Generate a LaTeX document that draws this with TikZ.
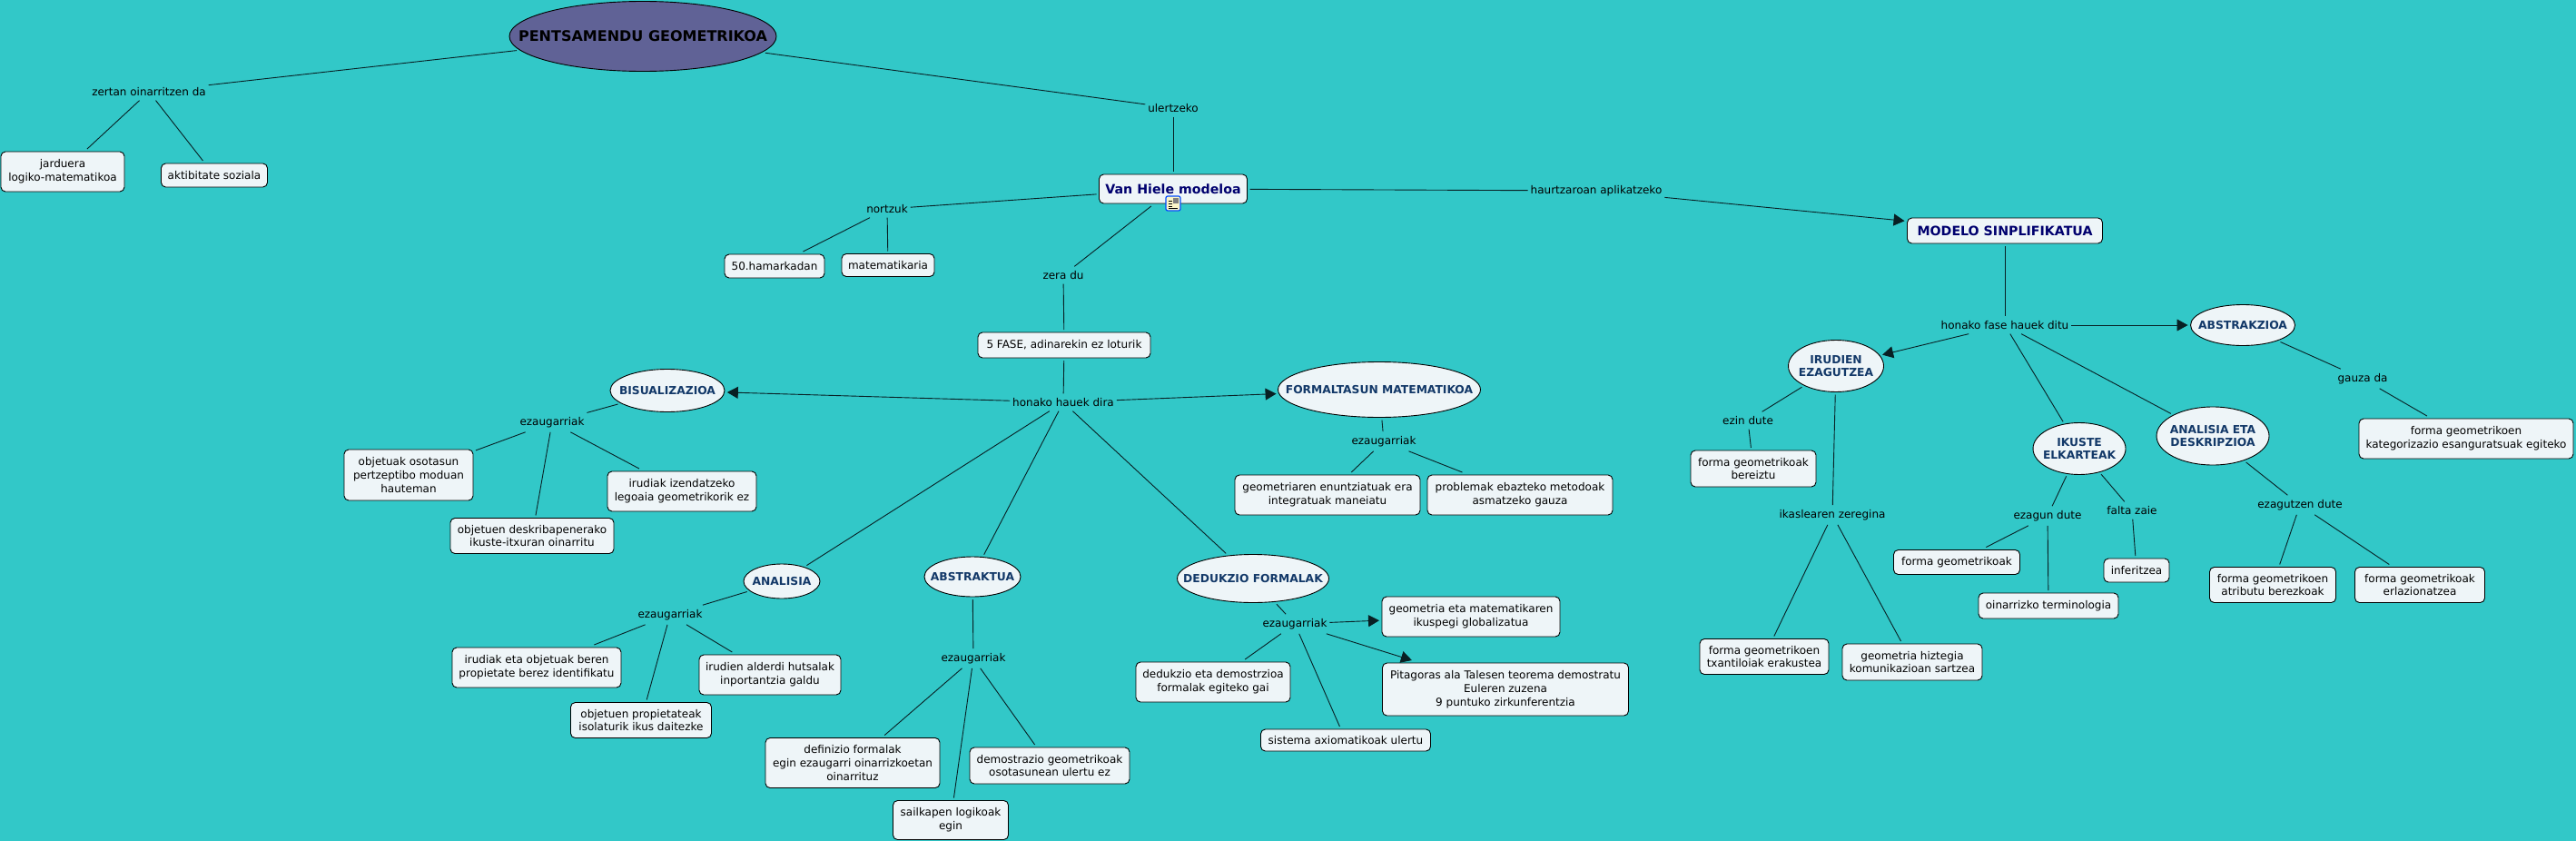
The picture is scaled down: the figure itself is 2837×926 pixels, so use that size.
\documentclass[tikz,border=0pt]{standalone}
\usepackage{fontspec}
\setmainfont{DejaVu Sans}
\usetikzlibrary{shapes.geometric,arrows.meta}
\definecolor{bgcol}{RGB}{50,200,200}
\definecolor{boxcol}{RGB}{238,245,248}
\definecolor{rootcol}{RGB}{96,98,150}
\definecolor{navycol}{RGB}{0,0,110}
\definecolor{phasecol}{RGB}{18,56,104}
\definecolor{linecol}{RGB}{8,32,36}
\definecolor{iconcol}{RGB}{250,245,200}

\begin{document}
\begin{tikzpicture}[x=1pt,y=-1pt,line width=.9pt,
  every node/.style={font=\fontsize{12}{14.7}\selectfont,align=center,outer sep=3pt,inner sep=0pt,text=black},
  lab/.style={inner xsep=1pt,inner ysep=3pt,outer sep=2pt},
  box/.style 2 args={draw=black,fill=boxcol,rounded corners=5pt,minimum width=#1pt,minimum height=#2pt},
  topbox/.style={font=\fontsize{14.2}{17}\selectfont\bfseries,text=navycol},
  oval/.style 2 args={draw=black,fill=boxcol,ellipse,inner xsep=-40pt,inner ysep=-10pt,minimum width=#1pt,minimum height=#2pt,font=\fontsize{12.3}{14.7}\selectfont\bfseries,text=phasecol},
  arr/.style={-{Triangle[length=12pt,width=13pt]}}]

  \fill[bgcol] (0,0) rectangle (2837,926);

  \node[draw=black,fill=rootcol,ellipse,inner xsep=-60pt,inner ysep=-10pt,minimum width=294pt,minimum height=77pt,font=\fontsize{16}{19}\selectfont\bfseries,text=black] (root) at (708,40) {PENTSAMENDU GEOMETRIKOA};
  \node[lab] (zertan) at (164,101) {zertan oinarritzen da};
  \node[box={136}{44}] (jarduera) at (69,189) {jarduera\\logiko-matematikoa};
  \node[box={117}{26}] (aktibitate) at (236,193) {aktibitate soziala};
  \node[lab] (ulertzeko) at (1292,119) {ulertzeko};

  \node[box={163}{32},topbox] (vanhiele) at (1292,208) {Van Hiele modeloa};
  \node[lab] (nortzuk) at (977,230) {nortzuk};
  \node[box={110}{26}] (hamarkadan) at (853,293) {50.hamarkadan};
  \node[box={102}{25}] (matematikaria) at (978,292) {matematikaria};
  \node[lab] (zeradu) at (1171,303) {zera du};
  \node[box={190}{28}] (fase) at (1172,380) {5 FASE, adinarekin ez loturik};
  \node[lab] (dira) at (1171,443) {honako hauek dira};
  \node[lab] (haurtzaroan) at (1758,210) {haurtzaroan aplikatzeko};

  \node[oval={126}{47}] (bisual) at (735,430) {BISUALIZAZIOA};
  \node[lab] (ezaug1) at (608,465) {ezaugarriak};
  \node[box={142}{56}] (objetuak) at (450,523) {objetuak osotasun\\pertzeptibo moduan\\hauteman};
  \node[box={164}{44}] (izendatzeko) at (751,541) {irudiak izendatzeko\\legoaia geometrikorik ez};
  \node[box={180}{39}] (deskribapen) at (586,590) {objetuen deskribapenerako\\ikuste-itxuran oinarritu};

  \node[oval={84}{38}] (analisia) at (861,640) {ANALISIA};
  \node[lab] (ezaug2) at (738,677) {ezaugarriak};
  \node[box={186}{44}] (beren) at (591,735) {irudiak eta objetuak beren\\propietate berez identifikatu};
  \node[box={156}{44}] (alderdi) at (848,743) {irudien alderdi hutsalak\\inportantzia galdu};
  \node[box={155}{39}] (propietateak) at (706,793) {objetuen propietateak\\isolaturik ikus daitezke};

  \node[oval={106}{44}] (abstraktua) at (1071,635) {ABSTRAKTUA};
  \node[lab] (ezaug3) at (1072,725) {ezaugarriak};
  \node[box={192}{55}] (definizio) at (939,840) {definizio formalak\\egin ezaugarri oinarrizkoetan\\oinarrituz};
  \node[box={127}{43}] (sailkapen) at (1047,903) {sailkapen logikoak\\egin};
  \node[box={176}{40}] (demostrazio) at (1156,843) {demostrazio geometrikoak\\osotasunean ulertu ez};

  \node[oval={223}{61}] (formal) at (1519,429) {FORMALTASUN MATEMATIKOA};
  \node[lab] (ezaug4) at (1524,486) {ezaugarriak};
  \node[box={204}{44}] (enuntziatuak) at (1462,545) {geometriaren enuntziatuak era\\integratuak maneiatu};
  \node[box={204}{44}] (problemak) at (1674,545) {problemak ebazteko metodoak\\asmatzeko gauza};

  \node[oval={167}{53}] (dedukzio) at (1380,637) {DEDUKZIO FORMALAK};
  \node[lab] (ezaug5) at (1426,687) {ezaugarriak};
  \node[box={196}{44}] (ikuspegi) at (1620,679) {geometria eta matematikaren\\ikuspegi globalizatua};
  \node[box={271}{58}] (pitagoras) at (1658,759) {Pitagoras ala Talesen teorema demostratu\\Euleren zuzena\\9 puntuko zirkunferentzia};
  \node[box={170}{44}] (gai) at (1336,751) {dedukzio eta demostrzioa\\formalak egiteko gai};
  \node[box={187}{24}] (axiomatikoak) at (1482,815) {sistema axiomatikoak ulertu};

  \node[box={215}{28},topbox] (modelo) at (2208,254) {MODELO SINPLIFIKATUA};
  \node[lab] (ditu) at (2208,358) {honako fase hauek ditu};
  \node[oval={115}{45}] (abstrakzioa) at (2470,358) {ABSTRAKZIOA};
  \node[lab] (gauza) at (2602,417) {gauza da};
  \node[box={236}{44}] (kategorizazio) at (2716,483) {forma geometrikoen\\kategorizazio esanguratsuak egiteko};

  \node[oval={105}{57}] (irudien) at (2022,403) {IRUDIEN\\EZAGUTZEA};
  \node[lab] (ezin) at (1925,463) {ezin dute};
  \node[box={138}{40}] (bereiztu) at (1931,516) {forma geometrikoak\\bereiztu};
  \node[lab] (ikaslea) at (2018,567) {ikaslearen zeregina};
  \node[box={142}{39}] (txantiloi) at (1943,723) {forma geometrikoen\\txantiloiak erakustea};
  \node[box={154}{40}] (hiztegia) at (2106,729) {geometria hiztegia\\komunikazioan sartzea};

  \node[oval={102}{57}] (ikuste) at (2290,494) {IKUSTE\\ELKARTEAK};
  \node[lab] (ezagun) at (2255,568) {ezagun dute};
  \node[lab] (falta) at (2348,562) {falta zaie};
  \node[box={139}{27}] (forma) at (2155,619) {forma geometrikoak};
  \node[box={154}{28}] (terminologia) at (2256,667) {oinarrizko terminologia};
  \node[box={72}{26}] (inferitzea) at (2353,628) {inferitzea};

  \node[oval={124}{64}] (deskripzioa) at (2437,480) {ANALISIA ETA\\DESKRIPZIOA};
  \node[lab] (ezagutzen) at (2533,556) {ezagutzen dute};
  \node[box={139}{39}] (atributu) at (2503,644) {forma geometrikoen\\atributu berezkoak};
  \node[box={143}{39}] (erlazio) at (2665,644) {forma geometrikoak\\erlazionatzea};

  \foreach \a/\b in {root/zertan,zertan/jarduera,zertan/aktibitate,root/ulertzeko,ulertzeko/vanhiele,
    vanhiele/nortzuk,nortzuk/hamarkadan,nortzuk/matematikaria,vanhiele/zeradu,zeradu/fase,fase/dira,
    vanhiele/haurtzaroan,dira/analisia,dira/abstraktua,dira/dedukzio,
    bisual/ezaug1,ezaug1/objetuak,ezaug1/izendatzeko,ezaug1/deskribapen,
    analisia/ezaug2,ezaug2/beren,ezaug2/alderdi,ezaug2/propietateak,
    abstraktua/ezaug3,ezaug3/definizio,ezaug3/sailkapen,ezaug3/demostrazio,
    formal/ezaug4,ezaug4/enuntziatuak,ezaug4/problemak,
    dedukzio/ezaug5,ezaug5/gai,ezaug5/axiomatikoak,
    modelo/ditu,ditu/ikuste,ditu/deskripzioa,abstrakzioa/gauza,gauza/kategorizazio,
    irudien/ezin,ezin/bereiztu,irudien/ikaslea,ikaslea/txantiloi,ikaslea/hiztegia,
    ikuste/ezagun,ikuste/falta,ezagun/forma,ezagun/terminologia,falta/inferitzea,
    deskripzioa/ezagutzen,ezagutzen/atributu,ezagutzen/erlazio}
    \draw[linecol] (\a) -- (\b);

  \foreach \a/\b in {haurtzaroan/modelo,dira/bisual,dira/formal,ezaug5/ikuspegi,ezaug5/pitagoras,
    ditu/abstrakzioa,ditu/irudien}
    \draw[linecol,arr] (\a) -- (\b);

  % document icon under the model box
  \fill[iconcol,draw=blue!70!cyan,line width=1.2pt,rounded corners=2pt] (1284,216) rectangle (1300,232);
  \fill[gray] (1292,218) rectangle (1298,224);
  \foreach \y in {221,224,227,229}
    \draw[black,line width=.8pt] (1287,\y) -- (1291,\y);
  \draw[black,line width=.8pt] (1287,229) -- (1297,229);
\end{tikzpicture}
\end{document}
